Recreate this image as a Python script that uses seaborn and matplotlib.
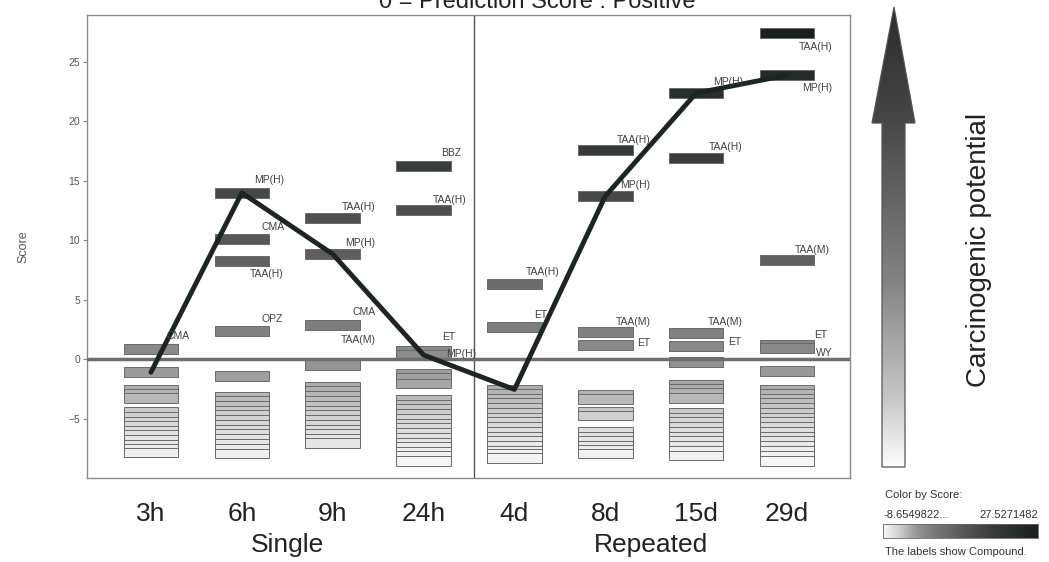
import numpy as np
import pandas as pd
import matplotlib
matplotlib.use('Agg')
import matplotlib.pyplot as plt
import matplotlib.transforms as mtransforms
from matplotlib.colors import LinearSegmentedColormap, Normalize
from matplotlib.patches import Polygon
import seaborn as sns

# time points and groups
times = ['3h', '6h', '9h', '24h', '4d', '8d', '15d', '29d']
groups = ['Single', 'Repeated']
group_center = [1.5, 5.5]

# prediction scores of all compounds per time point
score_3h = [0.84, -1.1, -2.6, -2.95, -3.25, -4.45, -4.85, -5.25, -5.6, -6.0,
            -6.4, -6.8, -7.2, -7.55, -7.85]
score_6h = [14.0, 10.1, 8.25, 2.36, -1.43, -3.15, -3.5, -3.9, -4.3, -4.7, -5.1,
            -5.5, -5.9, -6.3, -6.7, -7.1, -7.5, -7.95]
score_9h = [11.87, 8.84, 2.86, -0.5, -2.3, -2.7, -3.1, -3.5, -3.9, -4.3, -4.7,
            -5.1, -5.5, -5.9, -6.3, -6.7, -7.05]
score_24h = [16.25, 12.54, 0.7, 0.35, -1.2, -1.6, -2.05, -3.4, -3.8, -4.2, -4.6,
             -5.0, -5.4, -5.8, -6.2, -6.6, -7.0, -7.4, -7.8, -8.15, -8.55]
score_4d = [6.31, 2.69, -2.55, -2.9, -3.3, -3.7, -4.1, -4.5, -4.9, -5.3, -5.7,
            -6.1, -6.5, -6.9, -7.3, -7.7, -8.0, -8.3]
score_8d = [17.6, 13.72, 2.27, 1.18, -3.0, -3.35, -4.4, -4.75, -6.1, -6.5, -6.9,
            -7.3, -7.6, -7.95]
score_15d = [22.39, 16.92, 2.19, 1.09, -0.25, -2.15, -2.5, -2.85, -3.25, -4.5,
             -4.9, -5.3, -5.7, -6.1, -6.5, -6.9, -7.3, -7.7, -8.1]
score_29d = [27.44, 23.9, 8.33, 1.2, 0.95, -1.0, -2.55, -2.9, -3.3, -3.7, -4.1,
             -4.5, -4.9, -5.3, -5.7, -6.1, -6.5, -6.9, -7.3, -7.7, -8.1, -8.55]
all_scores = [score_3h, score_6h, score_9h, score_24h, score_4d, score_8d,
              score_15d, score_29d]

# MP(H) trajectory
mp_h = [-1.1, 14.0, 8.84, 0.35, -2.55, 13.72, 22.39, 23.9]

# labelled compounds
lab_time = ['3h', '6h', '6h', '6h', '6h', '9h', '9h', '9h', '9h', '24h', '24h',
            '24h', '24h', '4d', '4d', '8d', '8d', '8d', '8d', '15d', '15d',
            '15d', '15d', '29d', '29d', '29d', '29d', '29d']
lab_name = ['CMA', 'MP(H)', 'CMA', 'TAA(H)', 'OPZ', 'TAA(H)', 'MP(H)', 'CMA',
            'TAA(M)', 'BBZ', 'TAA(H)', 'ET', 'MP(H)', 'TAA(H)', 'ET', 'TAA(H)',
            'MP(H)', 'TAA(M)', 'ET', 'MP(H)', 'TAA(H)', 'TAA(M)', 'ET',
            'TAA(H)', 'MP(H)', 'TAA(M)', 'ET', 'WY']
lab_score = [0.84, 14.0, 10.1, 8.25, 2.36, 11.87, 8.84, 2.86, -0.5, 16.25,
             12.54, 0.7, 0.35, 6.31, 2.69, 17.6, 13.72, 2.27, 1.18, 22.39,
             16.92, 2.19, 1.09, 27.44, 23.9, 8.33, 1.2, 0.95]
# label placement (style)
lab_dy = [1.1, 1.07, 1.0, -1.1, 1.0, 0.93, 0.92, 1.1, 2.1, 1.08, 0.85, 1.15,
          0.07, 1.0, 1.0, 0.85, 0.9, 0.85, 0.17, 0.92, 0.93, 0.9, 0.34, -1.15,
          -1.1, 0.87, 0.8, -0.45]
lab_dx = [0.43, 0.47, 0.47, 0.46, 0.45, 0.47, 0.47, 0.47, 0.47, 0.41, 0.47,
          0.35, 0.58, 0.5, 0.36, 0.5, 0.5, 0.5, 0.5, 0.52, 0.51, 0.51, 0.5,
          0.5, 0.5, 0.47, 0.44, 0.5]

smin, smax = -8.6549822, 27.5271482

rows = []
for t, sc in zip(times, all_scores):
    for s in sc:
        rows.append({'time': t, 'pos': times.index(t), 'score': s})
df = pd.DataFrame(rows)

sns.set_style('white')
plt.rcParams['font.family'] = ['Liberation Sans', 'DejaVu Sans']

W, H = 1049, 562


def px(x0, y0, x1, y1):
    return [x0 / W, 1 - y1 / H, (x1 - x0) / W, (y1 - y0) / H]


cmap = LinearSegmentedColormap.from_list('score', [
    (0.0, '#f6f6f6'), (0.10, '#d2d2d2'), (0.185, '#a4a4a4'),
    (0.24, '#8e8e8e'), (0.32, '#7c7c7c'), (0.52, '#575757'),
    (0.71, '#383c39'), (1.0, '#1a221c')])
norm = Normalize(smin, smax)

fig = plt.figure(figsize=(W / 100, H / 100), dpi=100)
ax = fig.add_axes(px(87, 15, 850, 478))

d = df.sort_values('score', ascending=False)
ax.bar(d['pos'], height=0.8, bottom=d['score'] - 0.4, width=0.6,
       color=cmap(norm(d['score'].values)), edgecolor='#6a6a6a', linewidth=0.7,
       zorder=2)

ax.axhline(0, color='#6e6e6e', lw=2.5, zorder=4)
ax.axvline(3.55, color='#555555', lw=1.0, zorder=1)

sns.lineplot(x=np.arange(len(times)), y=mp_h, ax=ax, color='#1c2620', lw=3.5,
             zorder=5, sort=False)

for t, n, s, dy, dx in zip(lab_time, lab_name, lab_score, lab_dy, lab_dx):
    ax.text(times.index(t) + dx, s + dy, n, ha='right', va='center',
            fontsize=7.5, color='#404040', zorder=6)

ax.set_xlim(-0.704, 7.693)
ax.set_ylim(-10.0, 28.96)
ax.set_yticks([-5, 0, 5, 10, 15, 20, 25])
ax.set_xticks(range(len(times)))
ax.set_xticklabels(times, fontsize=19, color='#222222')
ax.tick_params(axis='x', length=0, pad=17)
ax.tick_params(axis='y', labelsize=7.5, labelcolor='#555555', color='#888888',
               length=3, width=0.8, direction='out', left=True, pad=2)
ax.set_xlabel('')
ax.set_ylabel('Score', fontsize=9, color='#555555', labelpad=28)
for sp in ax.spines.values():
    sp.set_color('#8a8a8a')
    sp.set_linewidth(1.0)

trans = mtransforms.blended_transform_factory(ax.transData, fig.transFigure)
for g, c in zip(groups, group_center):
    ax.text(c, 1 - 545 / H, g, transform=trans, ha='center', va='center',
            fontsize=19, color='#222222')

fig.text(537 / W, 1 - 8 / H, '0 = Prediction Score : Positive', ha='center',
         va='baseline', fontsize=17, color='#222222')

# gradient arrow
axa = fig.add_axes(px(866, 3, 921, 470))
axa.set_xlim(866, 921)
axa.set_ylim(470, 3)
axa.axis('off')
arrow_cmap = LinearSegmentedColormap.from_list('arrow', [
    (0.0, '#2a2a2a'), (0.25, '#474747'), (0.6, '#848484'),
    (0.85, '#c8c8c8'), (1.0, '#ffffff')])
grad = np.linspace(0, 1, 256).reshape(-1, 1)
poly = Polygon([(882, 467), (905, 467), (905, 123), (915, 123), (894, 7),
                (872, 123), (882, 123)], closed=True, facecolor='none',
               edgecolor='#555555', lw=0.9)
axa.add_patch(poly)
im = axa.imshow(grad, cmap=arrow_cmap, aspect='auto',
                extent=(866, 921, 470, 3), origin='upper')
im.set_clip_path(poly)

fig.text(979 / W, 1 - 250 / H, 'Carcinogenic potential', rotation=90,
         ha='center', va='center', fontsize=20, color='#222222')

# color legend
fig.text(885 / W, 1 - 495 / H, 'Color by Score:', ha='left', va='center',
         fontsize=8, color='#333333')
fig.text(883 / W, 1 - 515 / H, '-8.6549822...', ha='left', va='center',
         fontsize=8, color='#333333')
fig.text(1038 / W, 1 - 515 / H, '27.5271482', ha='right', va='center',
         fontsize=8, color='#333333')
fig.text(885 / W, 1 - 552 / H, 'The labels show Compound.', ha='left',
         va='center', fontsize=8, color='#333333')
axc = fig.add_axes(px(883, 524, 1038, 538))
axc.imshow(np.linspace(0, 1, 256).reshape(1, -1), cmap=cmap, aspect='auto')
axc.set_xticks([])
axc.set_yticks([])
for sp in axc.spines.values():
    sp.set_color('#666666')
    sp.set_linewidth(0.6)

fig.savefig('out.png', dpi=100)
